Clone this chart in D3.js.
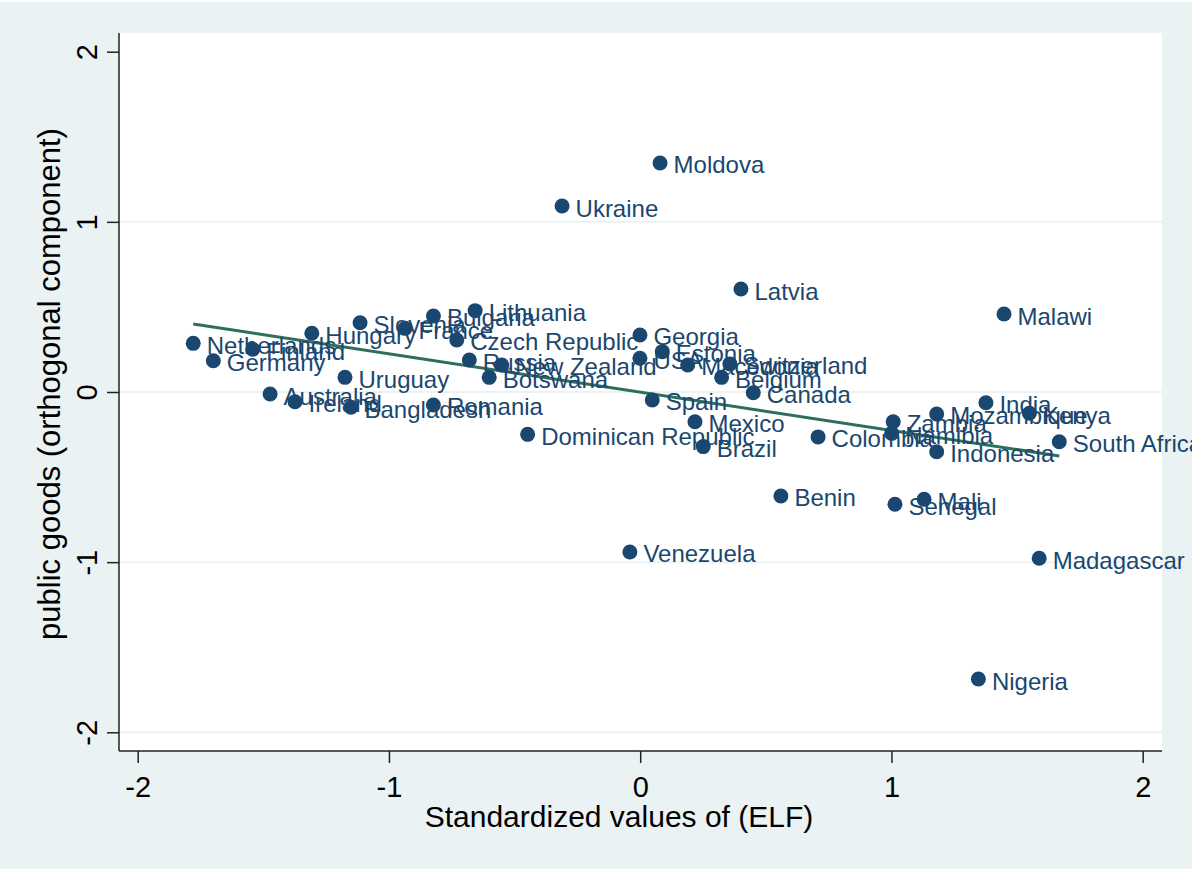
<!DOCTYPE html>
<html>
<head>
<meta charset="utf-8">
<script src="https://cdn.jsdelivr.net/npm/d3@7"></script>
<style>
  body { margin: 0; background: #fff; }
  svg { display: block; }
  text { font-family: "Liberation Sans", Arial, sans-serif; }
</style>
</head>
<body>
<div id="chart"></div>
<script>
// data
var countries = ["Netherlands", "Germany", "Finland", "Hungary", "Slovenia", "France", "Bulgaria",
    "Lithuania", "Czech Republic", "Russia", "New Zealand", "Botswana", "Uruguay", "Australia",
    "Ireland", "Bangladesh", "Romania", "Dominican Republic", "Georgia", "USA", "Estonia",
    "Macedonia", "Spain", "Mexico", "Brazil", "Switzerland", "Belgium", "Canada", "Zambia",
    "Namibia", "Mozambique", "India", "Kenya", "Indonesia", "South Africa", "Senegal", "Mali",
    "Madagascar", "Nigeria", "Moldova", "Ukraine", "Latvia", "Malawi", "Colombia", "Benin",
    "Venezuela"];
var elf = [-1.779, -1.699, -1.542, -1.307, -1.115, -0.936, -0.823,
    -0.657, -0.730, -0.680, -0.551, -0.601, -1.175, -1.473,
    -1.374, -1.151, -0.823, -0.448, -0.001, -0.001, 0.088,
    0.189, 0.048, 0.218, 0.251, 0.357, 0.324, 0.450, 1.007,
    1.001, 1.180, 1.376, 1.549, 1.180, 1.668, 1.014, 1.130,
    1.588, 1.346, 0.079, -0.311, 0.401, 1.448, 0.708, 0.560,
    -0.041];
var goods = [0.286, 0.184, 0.251, 0.345, 0.407, 0.374, 0.447,
    0.478, 0.306, 0.188, 0.159, 0.086, 0.086, -0.012,
    -0.057, -0.090, -0.076, -0.249, 0.335, 0.198, 0.237,
    0.159, -0.047, -0.175, -0.321, 0.165, 0.086, -0.004, -0.175,
    -0.243, -0.129, -0.063, -0.125, -0.351, -0.292, -0.660, -0.631,
    -0.977, -1.687, 1.346, 1.093, 0.605, 0.458, -0.264, -0.611,
    -0.940];
// fitted line end points
var fitX = [-1.779, 1.668];
var fitY = [0.400, -0.376];
var xTicks = [-2, -1, 0, 1, 2];
var yTicks = [-2, -1, 0, 1, 2];
var gridTicks = [-2, -1, 0, 1];

var width = 1192, height = 869;
var plotL = 119, plotR = 1162, plotT = 33, plotB = 751;
var navy = "#1a476f", bg = "#eaf2f3";

var svg = d3.select("#chart").append("svg")
    .attr("width", width)
    .attr("height", height);

svg.append("rect")
    .attr("x", 0).attr("y", 2)
    .attr("width", width).attr("height", height - 2)
    .attr("fill", bg);

svg.append("rect")
    .attr("x", plotL).attr("y", plotT)
    .attr("width", plotR - plotL).attr("height", plotB - plotT)
    .attr("fill", "#fff");

var x = d3.scaleLinear().domain([-2, 2]).range([137.7, 1142.7]);
var y = d3.scaleLinear().domain([-2, 2]).range([732.3, 51.7]);

// gridlines
svg.append("g").selectAll("line")
    .data(gridTicks)
    .enter().append("line")
    .attr("x1", plotL).attr("x2", plotR)
    .attr("y1", function (d) { return y(d); })
    .attr("y2", function (d) { return y(d); })
    .attr("stroke", bg)
    .attr("stroke-width", 2);

// x axis
var axisX = svg.append("g")
    .attr("transform", "translate(0," + plotB + ")")
    .call(d3.axisBottom(x).tickValues(xTicks).tickSize(12).tickPadding(13).tickFormat(d3.format("d")));
axisX.select(".domain").remove();
axisX.selectAll("line").attr("stroke", "#222").attr("stroke-width", 1.5);
axisX.selectAll("text")
    .attr("fill", "#000")
    .attr("font-size", "29px")
    .text(function (d) { return d < 0 ? "-" + Math.abs(d) : d; });

// y axis
var axisY = svg.append("g")
    .attr("transform", "translate(" + plotL + ",0)")
    .call(d3.axisLeft(y).tickValues(yTicks).tickSize(12).tickFormat(d3.format("d")));
axisY.select(".domain").remove();
axisY.selectAll("line").attr("stroke", "#222").attr("stroke-width", 1.5);
axisY.selectAll("text")
    .attr("x", null).attr("dy", null)
    .attr("fill", "#000")
    .attr("font-size", "29px")
    .attr("text-anchor", "middle")
    .attr("transform", "translate(-22,0) rotate(-90)")
    .text(function (d) { return d < 0 ? "-" + Math.abs(d) : d; });

// axis lines
svg.append("line")
    .attr("x1", plotL).attr("x2", plotL)
    .attr("y1", plotT).attr("y2", plotB)
    .attr("stroke", "#222").attr("stroke-width", 1.5);
svg.append("line")
    .attr("x1", plotL).attr("x2", plotR)
    .attr("y1", plotB).attr("y2", plotB)
    .attr("stroke", "#222").attr("stroke-width", 1.5);

// fitted line
var fitData = fitX.map(function (d, i) { return [d, fitY[i]]; });
svg.append("path")
    .datum(fitData)
    .attr("fill", "none")
    .attr("stroke", "#2e6e5c")
    .attr("stroke-width", 3)
    .attr("d", d3.line()
        .x(function (d) { return x(d[0]); })
        .y(function (d) { return y(d[1]); }));

// points and labels
var pts = countries.map(function (c, i) { return { name: c, x: elf[i], y: goods[i] }; });

svg.append("g").selectAll("circle")
    .data(pts)
    .enter().append("circle")
    .attr("cx", function (d) { return x(d.x); })
    .attr("cy", function (d) { return y(d.y); })
    .attr("r", 7.5)
    .attr("fill", navy);

svg.append("g").selectAll("text")
    .data(pts)
    .enter().append("text")
    .attr("x", function (d) { return x(d.x) + 13.5; })
    .attr("y", function (d) { return y(d.y) + 10.5; })
    .attr("font-size", "24px")
    .attr("fill", navy)
    .text(function (d) { return d.name; });

// axis titles
svg.append("text")
    .attr("x", 619).attr("y", 827)
    .attr("text-anchor", "middle")
    .attr("font-size", "30px")
    .attr("fill", "#000")
    .text("Standardized values of (ELF)");

svg.append("text")
    .attr("transform", "translate(60,384) rotate(-90)")
    .attr("text-anchor", "middle")
    .attr("font-size", "31px")
    .attr("fill", "#000")
    .text("public goods (orthogonal component)");
</script>
</body>
</html>
